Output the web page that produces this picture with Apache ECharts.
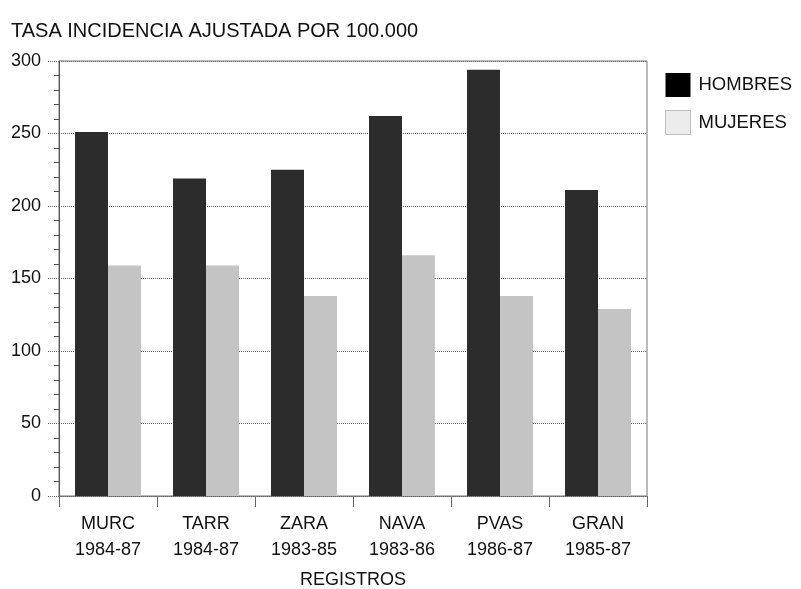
<!DOCTYPE html>
<html>
<head>
<meta charset="utf-8">
<script src="https://cdn.jsdelivr.net/npm/echarts@6/dist/echarts.min.js"></script>
<style>html,body{margin:0;padding:0;background:#fff}#c{width:801px;height:589px}</style>
</head>
<body>
<div id="c"></div>
<script>
const registros = ['MURC', 'TARR', 'ZARA', 'NAVA', 'PVAS', 'GRAN'];
const periodos = ['1984-87', '1984-87', '1983-85', '1983-86', '1986-87', '1985-87'];
const hombres = [251, 219, 225, 262, 294, 211];
const mujeres = [159, 159, 138, 166, 138, 129];
const yTicks = [0, 50, 100, 150, 200, 250, 300];

const FONT = '"Liberation Sans", Arial, Helvetica, sans-serif';
const chart = echarts.init(document.getElementById('c'), null, {renderer: 'canvas'});
chart.setOption({
  animation: false,
  backgroundColor: '#fff',
  textStyle: {fontFamily: FONT, color: '#111'},
  title: {
    text: 'TASA INCIDENCIA AJUSTADA POR 100.000',
    left: 6, top: 16,
    textStyle: {fontFamily: FONT, fontSize: 20, fontWeight: 'normal', color: '#111'}
  },
  legend: {
    orient: 'vertical',
    left: 660, top: 68,
    icon: 'rect',
    itemWidth: 25, itemHeight: 24, itemGap: 13,
    textStyle: {fontFamily: FONT, fontSize: 18.5, color: '#111', padding: [0, 0, 0, 3]},
    data: [
      {name: 'HOMBRES', itemStyle: {color: '#000'}},
      {name: 'MUJERES', itemStyle: {color: '#ececec', borderColor: '#888', borderWidth: 1, borderType: 'dotted'}}
    ]
  },
  grid: {left: 59, right: 154, top: 61, bottom: 93, outerBoundsMode: 'none', containLabel: false,
         show: true, borderColor: '#777', borderWidth: 1, backgroundColor: 'transparent'},
  xAxis: {
    type: 'category',
    data: registros,
    name: 'REGISTROS',
    nameLocation: 'middle',
    nameGap: 75,
    nameTextStyle: {fontFamily: FONT, fontSize: 18, color: '#111'},
    axisLine: {show: true, lineStyle: {color: '#666', type: 'dotted'}},
    axisTick: {show: true, length: 11, lineStyle: {color: '#666'}},
    axisLabel: {
      fontFamily: FONT, fontSize: 18, color: '#111', margin: 15, lineHeight: 26,
      formatter: (v, i) => v + '\n' + periodos[i]
    }
  },
  yAxis: {
    type: 'value',
    min: yTicks[0], max: yTicks[yTicks.length - 1], interval: 50,
    axisLine: {show: true, lineStyle: {color: '#555', width: 1}},
    axisTick: {show: true, length: 12, lineStyle: {color: '#666', type: 'dotted'}},
    minorTick: {show: true, splitNumber: 5, length: 5, lineStyle: {color: '#555'}},
    axisLabel: {fontFamily: FONT, fontSize: 18, color: '#111', margin: 18},
    splitLine: {show: true, lineStyle: {color: '#666', type: 'dotted', width: 1}}
  },
  series: [
    {name: 'HOMBRES', type: 'bar', data: hombres, barWidth: 33, barGap: '0%',
     itemStyle: {color: '#2c2c2c'}},
    {name: 'MUJERES', type: 'bar', data: mujeres, barWidth: 33, barGap: '0%',
     itemStyle: {color: '#c4c4c4'}}
  ]
});
</script>
</body>
</html>
